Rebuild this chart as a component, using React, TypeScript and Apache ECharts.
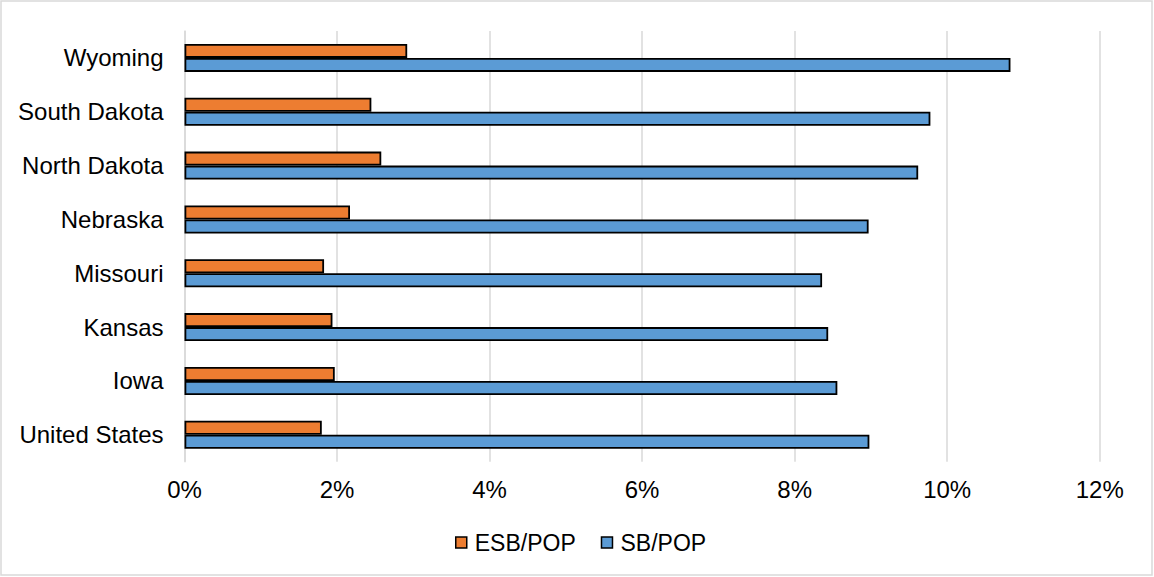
import React, { useEffect, useRef } from "react";
import * as echarts from "echarts";

const categories = [
  "United States",
  "Iowa",
  "Kansas",
  "Missouri",
  "Nebraska",
  "North Dakota",
  "South Dakota",
  "Wyoming",
];
const esbPop = [1.8, 1.97, 1.94, 1.83, 2.17, 2.58, 2.45, 2.92];
const sbPop = [8.98, 8.56, 8.44, 8.36, 8.97, 9.62, 9.78, 10.83];
const seriesNames = ["ESB/POP", "SB/POP"];

const FONT = "'Liberation Sans', Arial, sans-serif";

export default function App() {
  const ref = useRef<HTMLDivElement>(null);
  useEffect(() => {
    if (!ref.current) return;
    const chart = echarts.init(ref.current, null, { renderer: "svg" });
    const barStyle = (color: string) => ({
      color,
      borderColor: "#000",
      borderWidth: 1.8,
    });
    chart.setOption({
      animation: false,
      backgroundColor: "#fff",
      textStyle: { fontFamily: FONT },
      grid: { left: 184.5, right: 54.3, top: 31, bottom: 115.3, containLabel: false },
      graphic: [
        {
          type: "rect",
          shape: { x: 1, y: 1, width: 1151, height: 574 },
          style: { fill: "none", stroke: "#d9d9d9", lineWidth: 1.5 },
          silent: true,
        },
      ],
      legend: {
        data: seriesNames,
        left: 450,
        top: 526,
        icon: "rect",
        itemWidth: 11,
        itemHeight: 11,
        itemGap: 25,
        itemStyle: { borderWidth: 1.5, borderColor: "#000" },
        textStyle: { fontSize: 23, color: "#000", fontFamily: FONT, padding: [0, 0, 0, 3] },
      },
      xAxis: {
        type: "value",
        min: 0,
        max: 12,
        interval: 2,
        axisLabel: {
          formatter: "{value}%",
          fontSize: 24,
          color: "#000",
          margin: 16,
          fontFamily: FONT,
        },
        axisLine: { show: false },
        axisTick: { show: false },
        splitLine: { show: true, lineStyle: { color: "#d9d9d9", width: 1.5 } },
      },
      yAxis: {
        type: "category",
        data: categories,
        axisLabel: { fontSize: 24, color: "#000", margin: 21, fontFamily: FONT },
        axisLine: { show: true, lineStyle: { color: "#d9d9d9", width: 1.5 } },
        axisTick: { show: false },
      },
      series: [
        {
          name: seriesNames[0],
          type: "bar",
          data: esbPop,
          barWidth: 14,
          barGap: "0%",
          itemStyle: barStyle("#ED7D31"),
        },
        {
          name: seriesNames[1],
          type: "bar",
          data: sbPop,
          barWidth: 14,
          barGap: "0%",
          itemStyle: barStyle("#5B9BD5"),
        },
      ],
    });
    return () => chart.dispose();
  }, []);
  return (
    <div
      ref={ref}
      style={{ position: "fixed", left: 0, top: 0, width: 1154, height: 577 }}
    />
  );
}
